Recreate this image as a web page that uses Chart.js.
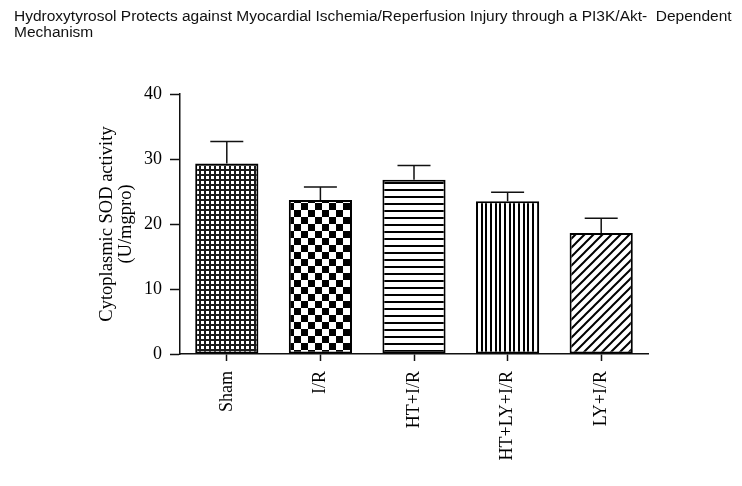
<!DOCTYPE html>
<html>
<head>
<meta charset="utf-8">
<script src="https://cdn.jsdelivr.net/npm/chart.js@4/dist/chart.umd.min.js"></script>
<style>
    body { margin: 0; background: #fff; }
    #wrap { position: relative; width: 742px; height: 486px; }
    #title {
        position: absolute; left: 14px; top: 8px;
        font: 15.5px "Liberation Sans", Arial, sans-serif; line-height: 16px;
        color: #111; white-space: nowrap;
    }
    #chart { position: absolute; left: 0; top: 0; }
</style>
</head>
<body>
<div id="wrap">
    <canvas id="chart" width="742" height="486"></canvas>
    <div id="title">Hydroxytyrosol Protects against Myocardial Ischemia/Reperfusion Injury through a PI3K/Akt-&nbsp; Dependent<br>Mechanism</div>
</div>
<script>
// data
const groups = ['Sham', 'I/R', 'HT+I/R', 'HT+LY+I/R', 'LY+I/R'];
const sodMean = [29.3, 23.7, 26.8, 23.5, 18.6];
const sodSem = [3.4, 2.0, 2.2, 1.4, 2.3];
const yTicks = [0, 10, 20, 30, 40];

// fill patterns, one per group
function makePattern(kind) {
    const c = document.createElement('canvas');
    let s;
    if (kind === 'fine') s = 5;
    else if (kind === 'checker') s = 14;
    else if (kind === 'hlines') s = 7;
    else if (kind === 'vlines') s = 14;
    else s = 9;
    c.width = s; c.height = s;
    const g = c.getContext('2d');
    g.fillStyle = '#fff';
    g.fillRect(0, 0, s, s);
    g.fillStyle = '#000';
    g.strokeStyle = '#000';
    if (kind === 'fine') {
        g.fillStyle = '#1a1a1a';
        g.fillRect(0, 0, s, s);
        g.fillStyle = '#fff';
        g.fillRect(1, 1, 3, 3);
    } else if (kind === 'checker') {
        g.fillRect(0, 0, 7, 7);
        g.fillRect(7, 7, 7, 7);
    } else if (kind === 'hlines') {
        g.fillRect(0, 0, s, 2);
    } else if (kind === 'vlines') {
        g.fillRect(0, 0, 2, s);
        g.fillRect(5, 0, 2, s);
        g.fillRect(9, 0, 2, s);
    } else {
        g.lineWidth = 2;
        g.beginPath();
        g.moveTo(-1, s + 1); g.lineTo(s + 1, -1);
        g.moveTo(-1, 1); g.lineTo(1, -1);
        g.moveTo(s - 1, s + 1); g.lineTo(s + 1, s - 1);
        g.stroke();
    }
    return g.createPattern(c, 'repeat');
}
const fills = ['fine', 'checker', 'hlines', 'vlines', 'diag'].map(makePattern);

// error bars (upper only, with cap)
const errorBars = {
    id: 'errorBars',
    afterDatasetsDraw(chart) {
        const ctx = chart.ctx;
        const y = chart.scales.y;
        const meta = chart.getDatasetMeta(0);
        ctx.save();
        ctx.strokeStyle = '#111';
        ctx.lineWidth = 1.5;
        meta.data.forEach((bar, i) => {
            const top = y.getPixelForValue(sodMean[i] + sodSem[i]);
            ctx.beginPath();
            ctx.moveTo(bar.x, bar.y);
            ctx.lineTo(bar.x, top);
            ctx.moveTo(bar.x - 16.5, top);
            ctx.lineTo(bar.x + 16.5, top);
            ctx.stroke();
        });
        ctx.restore();
    }
};

const serif = '"Liberation Serif", "Times New Roman", serif';

new Chart(document.getElementById('chart'), {
    type: 'bar',
    data: {
        labels: groups,
        datasets: [{
            data: sodMean,
            backgroundColor: fills,
            borderColor: '#000',
            borderWidth: 2,
            borderSkipped: false,
            barPercentage: 1,
            categoryPercentage: 0.675
        }]
    },
    options: {
        responsive: false,
        animation: false,
        layout: { padding: { top: 94, right: 94, left: 0, bottom: 0 } },
        plugins: {
            legend: { display: false },
            tooltip: { enabled: false }
        },
        scales: {
            x: {
                afterFit: (scale) => { scale.height = 132; },
                grid: {
                    display: true, drawOnChartArea: false, offset: false,
                    tickLength: 7, tickWidth: 1.5, tickColor: '#111'
                },
                border: { color: '#111', width: 1.5 },
                ticks: {
                    autoSkip: false, minRotation: 90, maxRotation: 90,
                    padding: 10, color: '#000',
                    font: { family: serif, size: 18 }
                }
            },
            y: {
                min: 0,
                max: 40,
                afterFit: (scale) => { scale.width = 180; },
                afterBuildTicks: (scale) => { scale.ticks = yTicks.map(v => ({ value: v })); },
                grid: {
                    display: true, drawOnChartArea: false,
                    tickLength: 10, tickWidth: 1.5, tickColor: '#111'
                },
                border: { color: '#111', width: 1.5 },
                ticks: {
                    padding: 8, color: '#000',
                    font: { family: serif, size: 18 }
                },
                title: {
                    display: true,
                    text: ['Cytoplasmic SOD activity', '(U/mgpro)'],
                    color: '#000',
                    font: { family: serif, size: 18.5, lineHeight: 1 },
                    padding: { top: 98, bottom: 0 }
                }
            }
        }
    },
    plugins: [errorBars]
});
</script>
</body>
</html>
